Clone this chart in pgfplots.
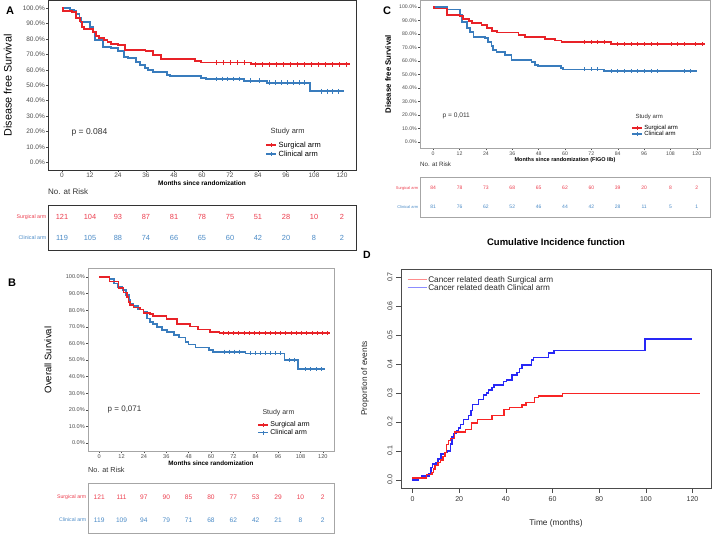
\documentclass[border=0pt]{standalone}
\usepackage{pgfplots}
\pgfplotsset{compat=1.18}
\usepackage{fontspec}
\setmainfont{Liberation Sans}

\definecolor{surg}{RGB}{232,34,40}
\definecolor{clin}{RGB}{57,124,189}
\definecolor{surgtxt}{RGB}{236,62,78}
\definecolor{clintxt}{RGB}{74,138,198}
\definecolor{dred}{RGB}{248,36,36}
\definecolor{dblue}{RGB}{40,40,246}
\definecolor{dredlight}{RGB}{255,140,140}
\definecolor{dbluelight}{RGB}{140,140,255}

\newcommand\fsz[1]{\fontsize{#1}{#1}\selectfont}

\pgfplotsset{
  km/.style={
    scale only axis, anchor=north west,
    xmin=-6, xmax=126, ymin=-5, ymax=105,
    xtick={0,12,...,120}, ytick={0,10,...,100},
    yticklabel={\pgfmathprintnumber[fixed,fixed zerofill,precision=1]{\tick}\%},
    /pgf/number format/assume math mode=true,
    tick align=outside, tick pos=left, major tick length=2pt,
    tick style={black!70, line width=0.4pt},
    ticklabel style={text=black!70, inner sep=1pt},
    legend cell align=left,
    legend image code/.code={\draw[mark repeat=2,mark phase=2,##1] plot coordinates {(0pt,0pt) (5pt,0pt) (10pt,0pt)};},
  },
  curve/.style={const plot, line width=1.9pt, mark=none, #1},
  cens/.style={only marks, mark=+, mark size=2.3pt, mark options={line width=0.6pt}, #1},
  risk/.style={
    scale only axis, anchor=north west, xmin=-6, xmax=126,
    xtick=\empty, ytick={1,2}, major tick length=0pt,
    yticklabels={\textcolor{clintxt}{Clinical arm},\textcolor{surgtxt}{Surgical arm}},
    /pgf/number format/assume math mode=true,
    title={No. at Risk},
    title style={at={(0,1)}, anchor=south west, inner xsep=0pt},
  },
  nrisk/.style 2 args={only marks, mark=text, text mark={}, nodes near coords, point meta=explicit,
    every node near coord/.append style={anchor=center, text=#1, font=\fsz{#2}}},
}

\begin{document}
\begin{tikzpicture}
\useasboundingbox (0pt,0pt) rectangle (712pt,534pt);

% ---------------- A ----------------
\begin{axis}[km, at={(48pt,533.4pt)}, width=308pt, height=169.4pt,
  axis line style={black!80, line width=0.7pt},
  ticklabel style={font=\fsz{6.5}},
  xlabel={Months since randomization},
  xlabel style={font=\bfseries\fsz{6.5}, at={(axis description cs:0.5,-0.077)}, anchor=center},
  ylabel={Disease free Survival},
  ylabel style={font=\fsz{10.8}, at={(axis description cs:-0.131,0.5)}, anchor=center},
  legend style={at={(0.705,0.12)}, anchor=west, draw=none, fill=none, inner sep=0pt,
    row sep=-1pt, font=\fsz{7.5}, nodes={inner sep=1.5pt}}]
\addlegendimage{surg, line width=1.9pt, mark=+, mark size=2.3pt, mark options={line width=0.6pt}}
\addlegendentry{Surgical arm}
\addlegendimage{clin, line width=1.9pt, mark=+, mark size=2.3pt, mark options={line width=0.6pt}}
\addlegendentry{Clinical arm}
\addplot[curve=clin, forget plot] coordinates {
  (0,100) (3.5,99) (5,98) (6,96.4) (7.5,93.5) (8.3,91) (12,87.6) (13.4,84.5) (14.3,79.4)
  (17.5,75.1) (21,74) (24,72.3) (26.7,68.6) (28.3,67.5) (31.9,65.3) (33.3,63.2) (35.5,61)
  (37,59.7) (39,58.8) (45,56.7) (46.4,55.8) (59.4,55) (61.6,54.1) (78,53) (87.8,51.7)
  (106.4,46.1) (120.7,46.1)};
\addplot[cens=clin, forget plot] coordinates {
  (66,54.1) (68.5,54.1) (71,54.1) (73.5,54.1) (76,54.1) (80.5,53) (84.5,53)
  (89,51.7) (91.5,51.7) (94,51.7) (96.5,51.7) (99,51.7) (101.5,51.7) (104,51.7)
  (111,46.1) (113.5,46.1) (116,46.1) (118.5,46.1)};
\addplot[curve=surg, forget plot] coordinates {
  (0,100) (0.5,98.5) (4.3,97.8) (6,93.5) (7.6,91.4) (8.6,88) (9.6,86.5) (13.1,84.8) (14.5,82.2)
  (15.9,80.5) (18,79.4) (19.5,77.9) (21,77) (24,76.2) (26.9,72.9) (35.8,72.2) (39,69.7)
  (42.4,67.3) (57,66) (59.6,64.8) (81,63.6) (123.6,63.6)};
\addplot[cens=surg, forget plot] coordinates {
  (66,64.8) (69,64.8) (72,64.8) (75,64.8) (78,64.8)
  (83,63.6) (86,63.6) (89,63.6) (92,63.6) (95,63.6) (98,63.6) (101,63.6) (104,63.6)
  (107,63.6) (110,63.6) (113,63.6) (116,63.6) (119,63.6) (122,63.6)};
\node[anchor=west, font=\fsz{8.5}, text=black!80] at (axis cs:2.6,19.7) {p = 0.084};
\node[anchor=west, font=\fsz{7.5}, text=black!80] at (axis description cs:0.711,0.224) {Study arm};
\end{axis}

\begin{axis}[risk, at={(48pt,329pt)}, width=308pt, height=45pt, ymin=0.43, ymax=2.57,
  axis line style={black!80, line width=0.7pt},
  yticklabel style={font=\fsz{5.3}, inner sep=1.5pt},
  title style={font=\fsz{8}, text=black!80, yshift=1pt}]
\addplot[nrisk={surgtxt}{7.4}] coordinates {
  (0,2) [121] (12,2) [104] (24,2) [93] (36,2) [87] (48,2) [81] (60,2) [78]
  (72,2) [75] (84,2) [51] (96,2) [28] (108,2) [10] (120,2) [2]};
\addplot[nrisk={clintxt}{7.4}] coordinates {
  (0,1) [119] (12,1) [105] (24,1) [88] (36,1) [74] (48,1) [66] (60,1) [65]
  (72,1) [60] (84,1) [42] (96,1) [20] (108,1) [8] (120,1) [2]};
\end{axis}

% ---------------- B ----------------
\begin{axis}[km, at={(88pt,265.3pt)}, width=246pt, height=182.6pt,
  axis line style={black!35, line width=0.7pt},
  ticklabel style={font=\fsz{5.6}},
  xlabel={Months since randomization},
  xlabel style={font=\bfseries\fsz{6.3}, at={(axis description cs:0.5,-0.066)}, anchor=center},
  ylabel={Overall Survival},
  ylabel style={font=\fsz{9.5}, at={(axis description cs:-0.163,0.5)}, anchor=center},
  legend style={at={(0.687,0.123)}, anchor=west, draw=none, fill=none, inner sep=0pt,
    row sep=-2pt, font=\fsz{7}, nodes={inner sep=1.5pt}}]
\addlegendimage{surg, line width=1.7pt, mark=+, mark size=2.1pt, mark options={line width=0.6pt}}
\addlegendentry{Surgical arm}
\addlegendimage{clin, line width=1.7pt, mark=+, mark size=2.1pt, mark options={line width=0.6pt}}
\addlegendentry{Clinical arm}
\addplot[curve={clin, line width=1.7pt}, forget plot] coordinates {
  (0,100) (5.5,99) (8,96) (10,94) (12.5,92) (14.3,89) (16,86) (16.6,84) (18.4,82.5) (21,80.5)
  (23.8,79) (25.6,75) (27.4,73) (29,71.7) (31,69.7) (33.6,68) (36.4,67) (40,65) (42.7,63.5)
  (46.3,61) (48,59.4) (51.7,57.6) (58.8,56) (61,55) (78.5,54) (99.5,50) (106.5,44.4) (121,44.4)};
\addplot[cens={clin, mark size=2.1pt}, forget plot] coordinates {
  (67,55) (69.7,55) (72.4,55) (75.1,55)
  (81,54) (83.7,54) (86.4,54) (89.1,54) (91.8,54) (94.5,54) (97.2,54)
  (102,50) (104.5,50) (110.5,44.4) (113.5,44.4) (116.4,44.4) (119.4,44.4)};
\addplot[curve={surg, line width=1.7pt}, forget plot] coordinates {
  (0,100) (5.5,97.2) (10.4,93.2) (13,90.6) (14.8,88.1) (15.7,85.1) (16.6,83.1) (18.4,81.7)
  (22,80.5) (23.7,78.5) (27.4,77.5) (29,76.5) (36.2,74.7) (41.6,71.8) (48.7,70.2) (53.2,68.3)
  (59.5,66.8) (64.5,66.1) (123.7,66.1)};
\addplot[cens={surg, mark size=2.1pt}, forget plot] coordinates {
  (66.5,66.1) (69.3,66.1) (72.1,66.1) (74.9,66.1) (77.7,66.1) (80.5,66.1) (83.3,66.1)
  (86.1,66.1) (88.9,66.1) (91.7,66.1) (94.5,66.1) (97.3,66.1) (100.1,66.1) (102.9,66.1)
  (105.7,66.1) (108.5,66.1) (111.3,66.1) (114.1,66.1) (116.9,66.1) (119.7,66.1) (122.5,66.1)};
\node[anchor=west, font=\fsz{8}, text=black!80] at (axis cs:2.7,19.9) {p = 0,071};
\node[anchor=west, font=\fsz{7}, text=black!80] at (axis description cs:0.695,0.21) {Study arm};
\end{axis}

\begin{axis}[risk, at={(88pt,51pt)}, width=246pt, height=50pt, ymin=0.435, ymax=2.609,
  axis line style={black!35, line width=0.7pt},
  yticklabel style={font=\fsz{5.2}, inner sep=1.5pt},
  title style={font=\fsz{7.3}, text=black!80, yshift=1pt}]
\addplot[nrisk={surgtxt}{6.6}] coordinates {
  (0,2) [121] (12,2) [111] (24,2) [97] (36,2) [90] (48,2) [85] (60,2) [80]
  (72,2) [77] (84,2) [53] (96,2) [29] (108,2) [10] (120,2) [2]};
\addplot[nrisk={clintxt}{6.6}] coordinates {
  (0,1) [119] (12,1) [109] (24,1) [94] (36,1) [79] (48,1) [71] (60,1) [68]
  (72,1) [62] (84,1) [42] (96,1) [21] (108,1) [8] (120,1) [2]};
\end{axis}

% ---------------- C ----------------
\begin{axis}[km, at={(420pt,534pt)}, width=290pt, height=148.5pt,
  axis line style={black!35, line width=0.7pt},
  ticklabel style={font=\fsz{5.2}},
  xlabel={Months since randomization (FIGO IIb)},
  xlabel style={font=\bfseries\fsz{5.5}, at={(axis description cs:0.5,-0.077)}, anchor=center},
  ylabel={Disease free Survival},
  ylabel style={font=\bfseries\fsz{7.8}, at={(axis description cs:-0.11,0.5)}, anchor=center},
  legend style={at={(0.728,0.118)}, anchor=west, draw=none, fill=none, inner sep=0pt,
    row sep=-2pt, font=\fsz{6}, nodes={inner sep=1.3pt}}]
\addlegendimage{surg, line width=1.7pt, mark=+, mark size=2pt, mark options={line width=0.6pt}}
\addlegendentry{Surgical arm}
\addlegendimage{clin, line width=1.7pt, mark=+, mark size=2pt, mark options={line width=0.6pt}}
\addlegendentry{Clinical arm}
\addplot[curve={clin, line width=1.7pt}, forget plot] coordinates {
  (0,100) (6.2,98) (12.2,93.8) (13,88.9) (15.3,84) (16.8,81.5) (18.3,77.8) (23.6,76.6)
  (25.1,74.1) (26.6,71.1) (27.3,67.9) (28.8,66.7) (32.6,64.2) (35.6,60.5) (44.7,59.3)
  (46.2,56.8) (47.7,56.3) (58.3,54.4) (59,53.6) (77.9,52.2) (120.2,52.2)};
\addplot[cens={clin, mark size=2pt}, forget plot] coordinates {
  (68.8,53.6) (71.9,53.6) (74.9,53.6) (80.9,52.2) (83.9,52.2) (87,52.2) (90,52.2) (93,52.2)
  (96,52.2) (99.1,52.2) (102.1,52.2) (114.2,52.2) (117.2,52.2)};
\addplot[curve={surg, line width=1.7pt}, forget plot] coordinates {
  (0,100) (0.4,98.8) (6.2,94) (12,93) (13.7,91) (16.2,89.6) (17.7,88) (22,86.5) (24.5,84.2)
  (26.8,82) (29,81) (38.8,79.3) (41.8,77.5) (50.9,76) (55.4,75) (58.4,74) (80.9,72.5) (123.7,72.5)};
\addplot[cens={surg, mark size=2pt}, forget plot] coordinates {
  (68.8,74) (71.9,74) (74.9,74) (77.9,74) (83.9,72.5) (87,72.5) (90,72.5) (93,72.5) (96,72.5)
  (99.1,72.5) (102.1,72.5) (108.2,72.5) (111.2,72.5) (114.2,72.5) (119.5,72.5) (122.5,72.5)};
\node[anchor=west, font=\fsz{6.6}, text=black!80] at (axis cs:2.7,19) {p = 0,011};
\node[anchor=west, font=\fsz{6}, text=black!80] at (axis description cs:0.731,0.212) {Study arm};
\end{axis}

\begin{axis}[risk, at={(420pt,357pt)}, width=290pt, height=40pt, ymin=0.47, ymax=2.58,
  axis line style={black!35, line width=0.7pt},
  yticklabel style={font=\fsz{4}, inner sep=1.5pt},
  title style={font=\fsz{6.2}, text=black!80, yshift=0.5pt}]
\addplot[nrisk={surgtxt}{5}] coordinates {
  (0,2) [84] (12,2) [78] (24,2) [73] (36,2) [68] (48,2) [65] (60,2) [62]
  (72,2) [60] (84,2) [39] (96,2) [20] (108,2) [8] (120,2) [2]};
\addplot[nrisk={clintxt}{5}] coordinates {
  (0,1) [81] (12,1) [76] (24,1) [62] (36,1) [52] (48,1) [46] (60,1) [44]
  (72,1) [42] (84,1) [28] (96,1) [11] (108,1) [5] (120,1) [1]};
\end{axis}

% ---------------- D ----------------
\begin{axis}[scale only axis, anchor=north west, at={(401pt,265pt)}, width=310pt, height=219pt,
  xmin=-4.92, xmax=127.92, ymin=-0.028, ymax=0.728,
  xtick={0,20,...,120}, ytick={0,0.1,0.2,0.3,0.4,0.5,0.6,0.7},
  /pgf/number format/assume math mode=true,
  yticklabel style={rotate=90, anchor=south, /pgf/number format/.cd, fixed, fixed zerofill, precision=1},
  tick align=outside, tick pos=left, major tick length=5pt,
  tick style={black!70, line width=0.5pt},
  axis line style={black!70, line width=0.6pt},
  ticklabel style={font=\fsz{7}, text=black!80},
  title={Cumulative Incidence function},
  title style={font=\bfseries\fsz{9.5}, at={(axis description cs:0.5,1.096)}, anchor=center},
  xlabel={Time (months)},
  xlabel style={font=\fsz{8.3}, text=black!85, at={(axis description cs:0.5,-0.16)}, anchor=center},
  ylabel={Proportion of events},
  ylabel style={font=\fsz{8.3}, text=black!85, at={(axis description cs:-0.116,0.5)}, anchor=center},
  legend style={at={(0.019,0.932)}, anchor=west, draw=none, fill=none, inner sep=0pt,
    row sep=-2pt, font=\fsz{8.2}, text=black!85, nodes={inner sep=1.3pt}},
  legend cell align=left,
  legend image code/.code={\draw[#1] (0pt,0pt) -- (19pt,0pt);}]
\addlegendimage{dredlight, line width=0.9pt}
\addlegendentry{Cancer related death Surgical arm}
\addlegendimage{dbluelight, line width=0.9pt}
\addlegendentry{Cancer related death Clinical arm}
\addplot[const plot, dblue, line width=1.4pt, forget plot] coordinates {
  (0,0) (2.6,0.007) (4,0.014) (7,0.022) (8,0.043) (8.7,0.055) (10,0.06) (11,0.072) (12.3,0.09)
  (14,0.095) (15,0.1) (16.2,0.124) (17,0.148) (17.6,0.16) (18.8,0.17) (19.7,0.179) (20.7,0.192)
  (21.9,0.209) (24,0.223) (25.1,0.24) (25.7,0.26) (28.3,0.278) (30.4,0.293) (31.6,0.3)
  (32.6,0.31) (34,0.319) (35,0.327) (39,0.339) (40.4,0.345) (42.6,0.362) (44.7,0.37)
  (45.9,0.385) (46.9,0.396) (51.1,0.414) (51.9,0.423) (58.3,0.438) (60.7,0.447) (99.7,0.487)
  (119.7,0.487)};
\addplot[const plot, dred, line width=1.4pt, forget plot] coordinates {
  (0,0.007) (6.1,0.018) (8.3,0.026) (9,0.037) (9.7,0.049) (10.9,0.06) (11.9,0.068) (13,0.08)
  (14,0.095) (14.7,0.122) (15.4,0.136) (16.4,0.142) (18,0.165) (22.6,0.173) (25.4,0.196)
  (27.9,0.208) (34,0.223) (39.3,0.243) (41.6,0.25) (46.9,0.258) (48.6,0.268) (52.2,0.284)
  (54,0.29) (64.3,0.298) (123,0.298)};
\end{axis}

% panel letters
\node[font=\bfseries\fsz{11}] at (10pt,523pt) {A};
\node[font=\bfseries\fsz{11}] at (12pt,251pt) {B};
\node[font=\bfseries\fsz{11}] at (387pt,523pt) {C};
\node[font=\bfseries\fsz{10.5}] at (367pt,279pt) {D};
\end{tikzpicture}
\end{document}
